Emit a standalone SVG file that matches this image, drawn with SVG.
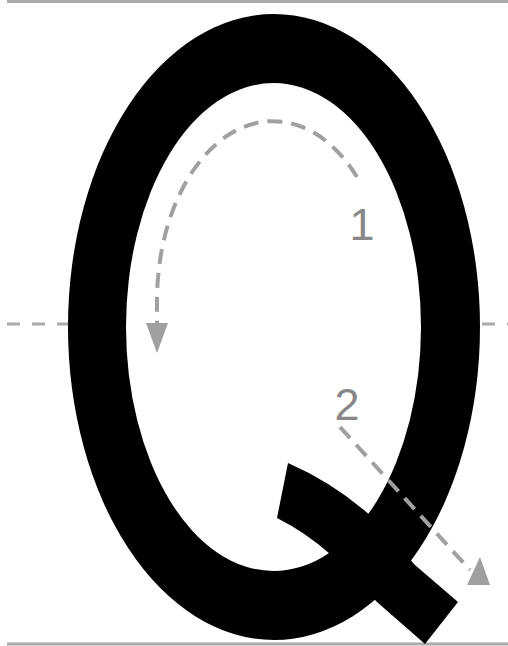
<svg xmlns="http://www.w3.org/2000/svg" width="508" height="646" viewBox="0 0 508 646">
  <style>
    .rule { stroke: #aaaaaa; stroke-width: 3; fill: none; }
    .dash { stroke: #aaaaaa; stroke-width: 3; fill: none; stroke-dasharray: 13 12; }
    .guide { stroke: #a0a0a0; stroke-width: 4; fill: none; stroke-dasharray: 15 9; }
    .head { fill: #a0a0a0; }
    .num { font-family: "Liberation Sans", Arial, sans-serif; font-size: 45px; fill: #888888; text-anchor: middle; }
  </style>
  <rect width="508" height="646" fill="#ffffff"/>
  <g id="rules">
    <line class="rule" x1="7" y1="1.5" x2="508" y2="1.5"/>
    <line class="rule" x1="7" y1="644" x2="508" y2="644"/>
    <line class="dash" x1="7" y1="324" x2="508" y2="324"/>
  </g>
  <g id="letter-q">
    <ellipse cx="274" cy="327" rx="206" ry="313" fill="#000000"/>
    <ellipse cx="273.5" cy="327" rx="147.5" ry="244" fill="#ffffff"/>
    <path d="M288,463 Q334,483 372,517 L415,565 L458,602 L425,644 L377,602 Q352,576 330,554 Q305,532 277,518 Z" fill="#000000"/>
  </g>
  <g id="connectors">
    <path class="guide" d="M357,177 A116,180 0 0 0 157,300 L157,324"/>
    <polygon class="head" points="146,323 168,323 157,353"/>
    <path class="guide" d="M340,427 L470,570"/>
    <polygon class="head" points="480,557 490,585 467,585"/>
  </g>
  <g id="label-1">
    <text class="num" x="362" y="240">1</text>
  </g>
  <g id="label-2">
    <text class="num" x="347" y="420">2</text>
  </g>
</svg>
